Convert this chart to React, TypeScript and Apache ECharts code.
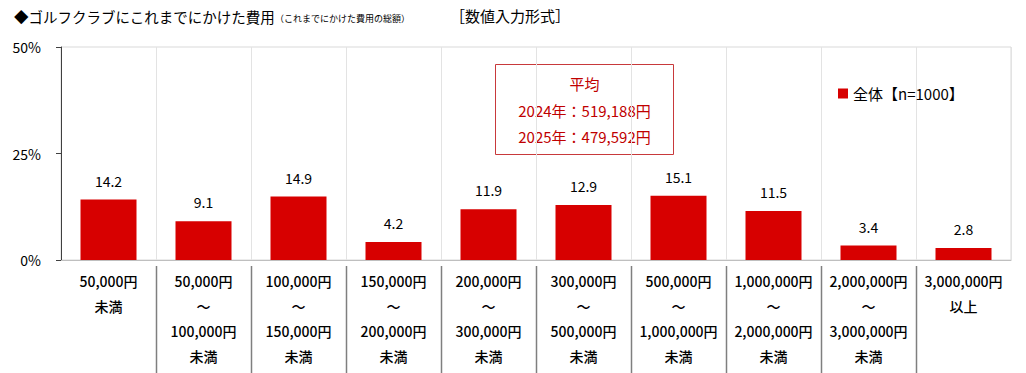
import React, { useEffect, useRef } from "react";
import * as echarts from "echarts";

const categories = [
  "50,000円\n未満",
  "50,000円\n～\n100,000円\n未満",
  "100,000円\n～\n150,000円\n未満",
  "150,000円\n～\n200,000円\n未満",
  "200,000円\n～\n300,000円\n未満",
  "300,000円\n～\n500,000円\n未満",
  "500,000円\n～\n1,000,000円\n未満",
  "1,000,000円\n～\n2,000,000円\n未満",
  "2,000,000円\n～\n3,000,000円\n未満",
  "3,000,000円\n以上",
];
const values = [14.2, 9.1, 14.9, 4.2, 11.9, 12.9, 15.1, 11.5, 3.4, 2.8];
const seriesName = "全体【n=1000】";
const yTicks = { min: 0, max: 50, interval: 25 };
const avgLines = ["平均", "2024年：519,188円", "2025年：479,592円"];
const titleMain = "◆ゴルフクラブにこれまでにかけた費用";
const titleSub = "（これまでにかけた費用の総額）";
const titleTag = "［数値入力形式］";

const FONT = "'Noto Sans CJK JP', 'Noto Sans', sans-serif";
const RED = "#D70000";

export default function App() {
  const ref = useRef<HTMLDivElement>(null);
  useEffect(() => {
    if (!ref.current) return;
    const chart = echarts.init(ref.current, undefined, { renderer: "svg" });
    chart.setOption({
      animation: false,
      backgroundColor: "#fff",
      textStyle: { fontFamily: FONT },
      grid: {
        left: 61,
        right: 15,
        top: 47,
        bottom: 113,
        show: true,
        borderColor: "#d9d9d9",
        borderWidth: 1,
      },
      legend: {
        left: 833,
        top: 81,
        itemWidth: 10,
        itemHeight: 10,
        itemGap: 4,
        textStyle: { fontSize: 15, color: "#000", fontFamily: FONT },
        data: [{ name: seriesName, icon: "rect" }],
      },
      xAxis: {
        type: "category",
        data: categories,
        boundaryGap: true,
        axisLine: { show: true, lineStyle: { color: "#bfbfbf", width: 1 } },
        axisTick: { show: false },
        splitLine: { show: true, lineStyle: { color: "#e3e3e3", width: 1 } },
        axisLabel: {
          interval: 0,
          margin: 8,
          fontSize: 14,
          lineHeight: 25,
          color: "#000",
          fontFamily: FONT,
          fontWeight: 500,
          verticalAlign: "top",
        },
      },
      yAxis: {
        type: "value",
        min: yTicks.min,
        max: yTicks.max,
        interval: yTicks.interval,
        axisLine: { show: true, lineStyle: { color: "#404040", width: 1 } },
        axisTick: { show: true, length: 5, lineStyle: { color: "#404040" } },
        splitLine: { show: false },
        axisLabel: {
          formatter: "{value}%",
          fontSize: 14,
          color: "#000",
          margin: 20,
          fontFamily: FONT,
        },
      },
      series: [
        {
          name: seriesName,
          type: "bar",
          data: values,
          barWidth: 56,
          itemStyle: { color: RED },
          label: {
            show: true,
            position: "top",
            distance: 12,
            fontSize: 14,
            color: "#000",
            fontFamily: FONT,
            formatter: (p: any) => p.value.toFixed(1),
          },
        },
        {
          type: "custom",
          clip: false,
          silent: true,
          data: categories.slice(1).map((_, i) => [i + 1, 0]),
          renderItem: (params: any, api: any) => {
            const pt = api.coord([api.value(0), 0]);
            const bw = api.size([1, 0])[0];
            const x = Math.round(pt[0] - bw / 2) + 0.5;
            return {
              type: "line",
              shape: { x1: x, y1: pt[1] + 6, x2: x, y2: pt[1] + 113 },
              style: { stroke: "#7f7f7f", lineWidth: 1.5 },
            };
          },
        },
      ],
      graphic: [
        {
          type: "text",
          left: 14,
          top: 9,
          style: { text: titleMain, fontSize: 14.5, fill: "#000", fontFamily: FONT },
        },
        {
          type: "text",
          left: 275,
          top: 14,
          style: { text: titleSub, fontSize: 9, fill: "#000", fontFamily: FONT },
        },
        {
          type: "text",
          left: 450,
          top: 8,
          style: { text: titleTag, fontSize: 15, fill: "#000", fontFamily: FONT },
        },
        {
          type: "group",
          left: 495,
          top: 64,
          children: [
            {
              type: "rect",
              shape: { x: 0, y: 0, width: 178, height: 90 },
              style: { fill: "#fff", stroke: "#c8393b", lineWidth: 1 },
            },
            ...avgLines.map((t, i) => ({
              type: "text",
              x: 89,
              y: 19 + i * 26.5,
              style: {
                text: t,
                fontSize: 15,
                fill: "#C00000",
                fontFamily: FONT,
                align: "center",
                verticalAlign: "middle",
              },
            })),
          ],
        },
      ],
    });
    return () => chart.dispose();
  }, []);
  return (
    <div
      ref={ref}
      style={{ position: "fixed", left: 0, top: 0, width: 1026, height: 373 }}
    />
  );
}
